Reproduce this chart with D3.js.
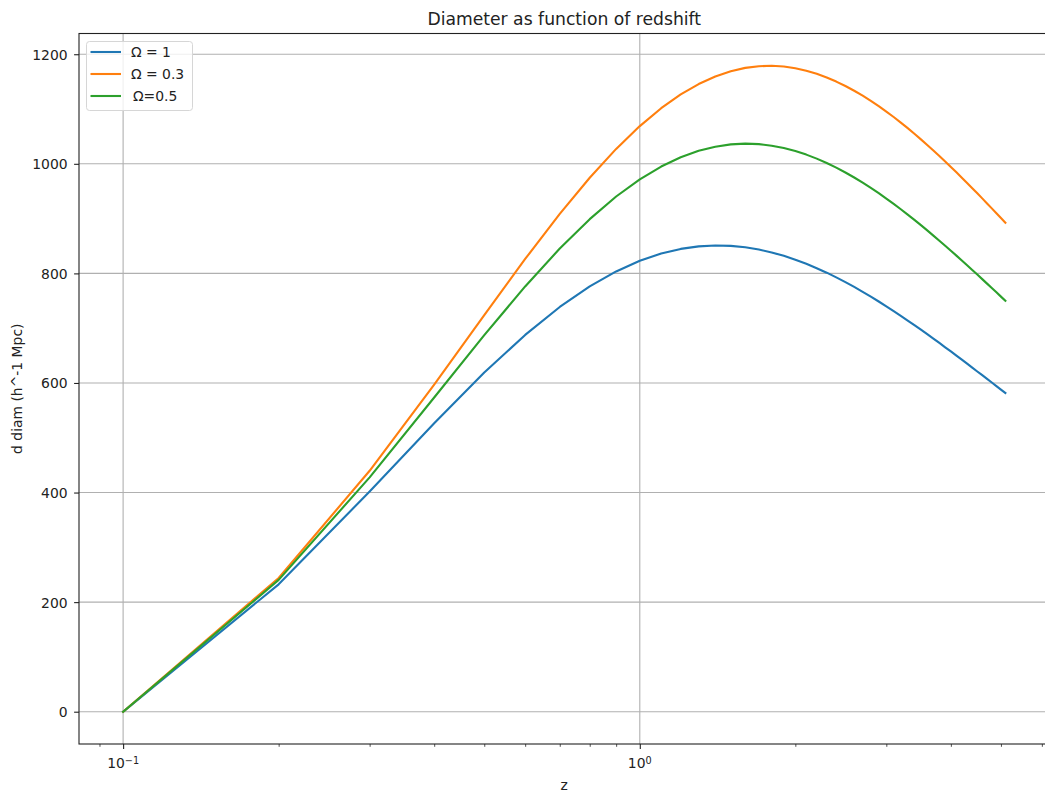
<!DOCTYPE html>
<html>
<head>
<meta charset="utf-8">
<script src="https://cdn.jsdelivr.net/npm/d3@7"></script>
<style>
	body { margin: 0; background: #fff; }
	svg { display: block; font-family: "DejaVu Sans", sans-serif; }
</style>
</head>
<body>
<svg id="chart" width="1045" height="797"></svg>
<script>

// redshift values (x)
var zValues = [0.1, 0.2, 0.3, 0.4, 0.5, 0.6, 0.7, 0.8, 0.9, 1.0,
	1.1, 1.2, 1.3, 1.4, 1.5, 1.6, 1.7, 1.8, 1.9, 2.0,
	2.1, 2.2, 2.3, 2.4, 2.5, 2.6, 2.7, 2.8, 2.9, 3.0,
	3.1, 3.2, 3.3, 3.4, 3.5, 3.6, 3.7, 3.8, 3.9, 4.0,
	4.1, 4.2, 4.3, 4.4, 4.5, 4.6, 4.7, 4.8, 4.9, 5.0, 5.1];

// diameter distance per omega
var diamOmega1 = [0, 232.5, 401.9, 526.5, 619.0, 687.7, 738.7, 776.3, 803.6, 823.0,
	836.3, 844.7, 849.3, 851.0, 850.2, 847.6, 843.5, 838.2, 832.0, 825.0,
	817.5, 809.5, 801.3, 792.7, 784.1, 775.3, 766.4, 757.6, 748.7, 740.0,
	731.2, 722.6, 714.0, 705.6, 697.2, 689.0, 680.9, 673.0, 665.1, 657.5,
	649.9, 642.5, 635.2, 628.1, 621.0, 614.2, 607.4, 600.8, 594.3, 587.9, 581.7];
var diamOmega03 = [0, 244.1, 439.7, 597.2, 724.0, 826.3, 908.6, 974.5, 1027.2, 1068.8,
	1101.5, 1126.6, 1145.6, 1159.5, 1169.1, 1175.1, 1178.2, 1178.9, 1177.5, 1174.4,
	1169.9, 1164.2, 1157.6, 1150.1, 1142.0, 1133.4, 1124.3, 1114.9, 1105.3, 1095.4,
	1085.4, 1075.3, 1065.1, 1054.9, 1044.6, 1034.4, 1024.3, 1014.2, 1004.2, 994.2,
	984.4, 974.7, 965.0, 955.5, 946.1, 936.9, 927.7, 918.7, 909.8, 901.1, 892.5];
var diamOmega05 = [0, 240.6, 427.7, 573.5, 687.3, 776.2, 845.4, 899.0, 940.3, 971.6,
	995.0, 1012.0, 1023.8, 1031.3, 1035.5, 1036.8, 1035.9, 1033.1, 1028.8, 1023.3,
	1016.8, 1009.5, 1001.5, 993.0, 984.2, 975.0, 965.6, 956.0, 946.4, 936.6,
	926.8, 917.1, 907.3, 897.6, 888.0, 878.5, 869.0, 859.7, 850.5, 841.4,
	832.4, 823.5, 814.8, 806.2, 797.8, 789.5, 781.3, 773.3, 765.4, 757.6, 749.9];

var seriesLabels = ["\u03A9 = 1", "\u03A9 = 0.3", "\u03A9=0.5"];
var seriesColors = ["#1f77b4", "#ff7f0e", "#2ca02c"];
var seriesValues = [diamOmega1, diamOmega03, diamOmega05];

var xMajorTicks = [0.1, 1];
var xMinorTicks = [0.09, 0.2, 0.3, 0.4, 0.5, 0.6, 0.7, 0.8, 0.9, 2, 3, 4, 5, 6];
var xTickExp = ["\u22121", "0"];
var yTicks = [0, 200, 400, 600, 800, 1000, 1200];

var titleText = "Diameter as function of redshift";
var xLabelText = "z";
var yLabelText = "d diam (h^-1 Mpc)";

var plot = { left: 79, right: 1049.5, top: 33.5, bottom: 744 };
var fs = 13.9;

var svg = d3.select("#chart");

// scales, with matplotlib style 5% margins
var lx = [Math.log10(d3.min(zValues)), Math.log10(d3.max(zValues))];
var lpad = (lx[1] - lx[0]) * 0.05;
var x = d3.scaleLog()
	.domain([Math.pow(10, lx[0] - lpad), Math.pow(10, lx[1] + lpad)])
	.range([plot.left, plot.right]);

var yMax = d3.max(seriesValues, function(s) { return d3.max(s); });
var yMin = d3.min(seriesValues, function(s) { return d3.min(s); });
var ypad = (yMax - yMin) * 0.05;
var y = d3.scaleLinear()
	.domain([yMin - ypad, yMax + ypad])
	.range([plot.bottom, plot.top]);

// grid
var grid = svg.append("g").attr("class", "grid");
grid.selectAll("line.gx")
	.data(xMajorTicks)
	.enter()
	.append("line")
	.attr("x1", function(d) { return x(d); })
	.attr("x2", function(d) { return x(d); })
	.attr("y1", plot.top)
	.attr("y2", plot.bottom)
	.attr("stroke", "#b0b0b0")
	.attr("stroke-width", 1.1);
grid.selectAll("line.gy")
	.data(yTicks)
	.enter()
	.append("line")
	.attr("x1", plot.left)
	.attr("x2", plot.right)
	.attr("y1", function(d) { return y(d); })
	.attr("y2", function(d) { return y(d); })
	.attr("stroke", "#b0b0b0")
	.attr("stroke-width", 1.1);

// lines
svg.append("clipPath").attr("id", "clip")
	.append("rect")
	.attr("x", plot.left).attr("y", plot.top)
	.attr("width", plot.right - plot.left).attr("height", plot.bottom - plot.top);

var line = d3.line()
	.x(function(d, i) { return x(zValues[i]); })
	.y(function(d) { return y(d); });

svg.append("g")
	.attr("clip-path", "url(#clip)")
	.selectAll("path.series")
	.data(seriesValues)
	.enter()
	.append("path")
	.attr("class", "series")
	.attr("fill", "none")
	.attr("stroke", function(d, i) { return seriesColors[i]; })
	.attr("stroke-width", 2.1)
	.attr("stroke-linejoin", "round")
	.attr("stroke-linecap", "square")
	.attr("d", line);

// x axis (major + minor)
var xAxis = svg.append("g")
	.attr("transform", "translate(0," + plot.bottom + ")")
	.call(d3.axisBottom(x).tickValues(xMajorTicks).tickSize(4.9).tickFormat(""));
xAxis.select(".domain").remove();
xAxis.selectAll(".tick line").attr("stroke", "#222").attr("stroke-width", 1.1);

var xMinor = svg.append("g")
	.attr("transform", "translate(0," + plot.bottom + ")")
	.call(d3.axisBottom(x).tickValues(xMinorTicks).tickSize(2.8).tickFormat(""));
xMinor.select(".domain").remove();
xMinor.selectAll(".tick line").attr("stroke", "#222").attr("stroke-width", 0.8);

// 10^n labels
svg.selectAll("text.xlab")
	.data(xMajorTicks)
	.enter()
	.append("text")
	.attr("class", "xlab")
	.attr("x", function(d) { return x(d); })
	.attr("y", 768.3)
	.attr("text-anchor", "middle")
	.attr("font-size", fs)
	.attr("fill", "#222")
	.each(function(d, i) {
		var t = d3.select(this);
		t.append("tspan").text("10");
		t.append("tspan").attr("font-size", 9.7).attr("dy", -4.6).text(xTickExp[i]);
	});

// y axis
var yAxis = svg.append("g")
	.attr("transform", "translate(" + plot.left + ",0)")
	.call(d3.axisLeft(y).tickValues(yTicks).tickSize(4.9).tickPadding(6.5).tickFormat(d3.format("d")));
yAxis.select(".domain").remove();
yAxis.selectAll(".tick line").attr("stroke", "#222").attr("stroke-width", 1.1);
yAxis.selectAll(".tick text")
	.attr("font-size", fs)
	.attr("font-family", "DejaVu Sans")
	.attr("fill", "#222")
	.attr("dy", "0.36em");

// spines (right one falls just outside the picture)
svg.append("rect")
	.attr("x", plot.left)
	.attr("y", plot.top)
	.attr("width", plot.right - plot.left)
	.attr("height", plot.bottom - plot.top)
	.attr("fill", "none")
	.attr("stroke", "#222")
	.attr("stroke-width", 1.1);

// title and axis labels
svg.append("text")
	.attr("x", (plot.left + plot.right) / 2)
	.attr("y", 25)
	.attr("text-anchor", "middle")
	.attr("font-size", 17.2)
	.attr("fill", "#222")
	.text(titleText);
svg.append("text")
	.attr("x", (plot.left + plot.right) / 2)
	.attr("y", 790)
	.attr("text-anchor", "middle")
	.attr("font-size", fs)
	.attr("fill", "#222")
	.text(xLabelText);
svg.append("text")
	.attr("transform", "translate(22," + ((plot.top + plot.bottom) / 2) + ") rotate(-90)")
	.attr("text-anchor", "middle")
	.attr("font-size", fs)
	.attr("fill", "#222")
	.text(yLabelText);

// legend
var legend = svg.append("g").attr("transform", "translate(86.5,41.5)");
legend.append("rect")
	.attr("width", 106)
	.attr("height", 69)
	.attr("rx", 3)
	.attr("fill", "#fff")
	.attr("fill-opacity", 0.8)
	.attr("stroke", "#d6d6d6")
	.attr("stroke-width", 1);
var items = legend.selectAll("g.item")
	.data(seriesLabels)
	.enter()
	.append("g")
	.attr("class", "item")
	.attr("transform", function(d, i) { return "translate(0," + (10.5 + i * 22) + ")"; });
items.append("line")
	.attr("x1", 4)
	.attr("x2", 34.5)
	.attr("stroke", function(d, i) { return seriesColors[i]; })
	.attr("stroke-width", 2.1);
items.append("text")
	.attr("x", function(d, i) { return i == 2 ? 46.5 : 44.5; })
	.attr("dy", "0.36em")
	.attr("font-size", fs)
	.attr("fill", "#222")
	.text(function(d) { return d; });

</script>
</body>
</html>
